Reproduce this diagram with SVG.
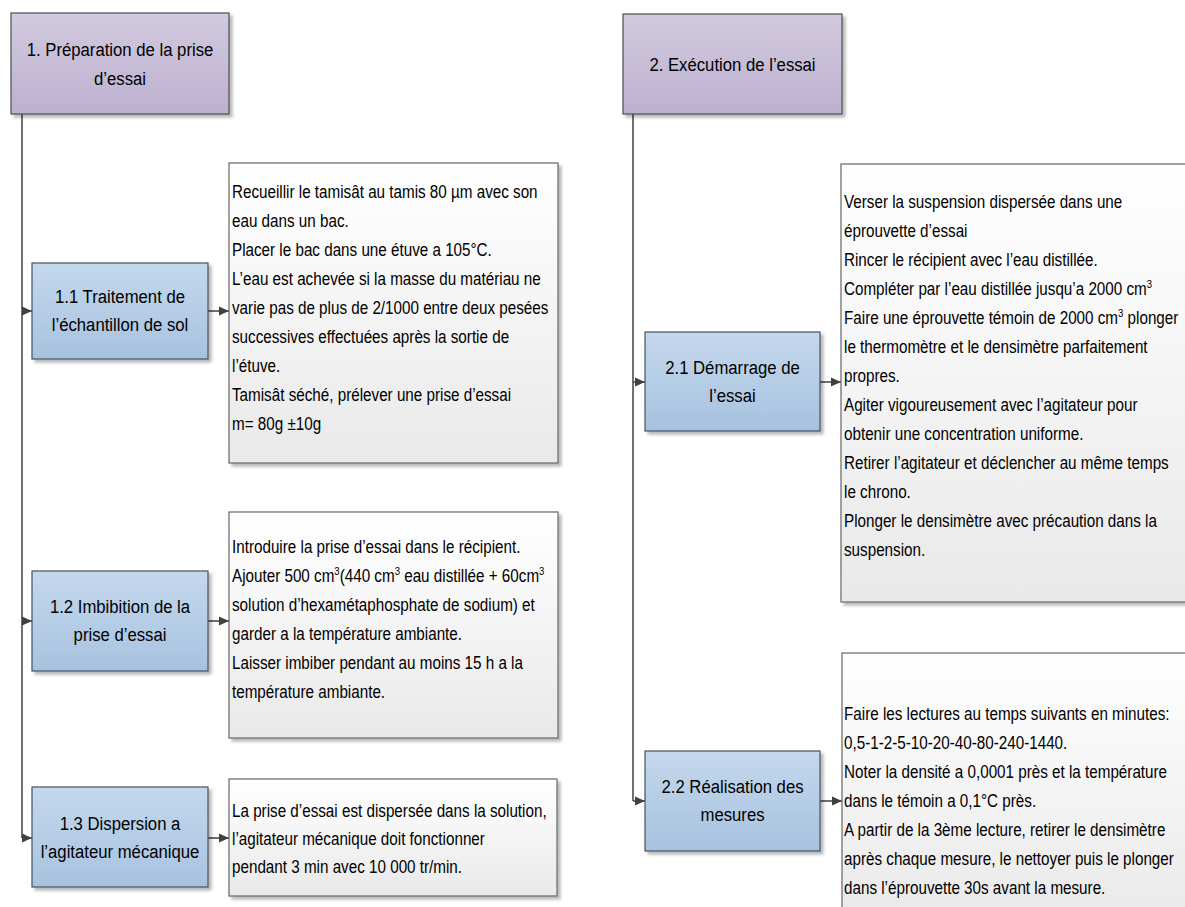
<svg xmlns="http://www.w3.org/2000/svg" width="1185" height="907" viewBox="0 0 1185 907">
<style>
text{font-family:"Liberation Sans",Arial,sans-serif;font-size:17.5px;fill:#000}
.big{font-size:19px}
.c{text-anchor:middle}
.hdr{fill:url(#gP);stroke:#4d4d4d;stroke-width:1.2;filter:url(#sh)}
.nd{fill:url(#gB);stroke:#45535f;stroke-width:1.2;filter:url(#sh)}
.tb{fill:url(#gW);stroke:#666666;stroke-width:1.2;filter:url(#sh)}
.ln{fill:none;stroke:#404040;stroke-width:1.5}
.ar{fill:none;stroke:#404040;stroke-width:1.5;marker-end:url(#ah)}
.sup{font-size:11px}
</style>
<defs>
<linearGradient id="gP" x1="0" y1="0" x2="0" y2="1"><stop offset="0" stop-color="#d2cadf"/><stop offset="1" stop-color="#bcb0d0"/></linearGradient>
<linearGradient id="gB" x1="0" y1="0" x2="0" y2="1"><stop offset="0" stop-color="#c4d8ed"/><stop offset="1" stop-color="#a7c2df"/></linearGradient>
<linearGradient id="gW" x1="0" y1="0" x2="0" y2="1"><stop offset="0" stop-color="#ffffff"/><stop offset="1" stop-color="#e9e9e9"/></linearGradient>
<filter id="sh" x="-5%" y="-5%" width="115%" height="115%"><feDropShadow dx="3" dy="3" stdDeviation="1.5" flood-color="#000" flood-opacity="0.28"/></filter>
<marker id="ah" markerUnits="userSpaceOnUse" markerWidth="10" markerHeight="10" refX="10" refY="5" orient="auto"><path d="M0,0.5 L10,5 L0,9.5 z" fill="#404040"/></marker>
</defs>

<g id="connectors">
<path class="ln" d="M22,114 V838"/>
<path class="ar" d="M22,311 H32"/>
<path class="ar" d="M22,621 H32"/>
<path class="ar" d="M22,838 H32"/>
<path class="ar" d="M208,311 H229"/>
<path class="ar" d="M208,621 H229"/>
<path class="ar" d="M208,838 H229"/>
<path class="ln" d="M633,114 V801"/>
<path class="ar" d="M633,382 H645"/>
<path class="ar" d="M633,801 H645"/>
<path class="ar" d="M820,382 H841"/>
<path class="ar" d="M820,801 H842"/>
</g>

<g id="n1">
<rect class="hdr" x="11" y="13" width="218" height="101"/>
<g transform="translate(120 0) scale(0.88 1)">
<text class="c big" x="0" y="56">1. Préparation de la prise</text>
<text class="c big" x="0" y="85">d’essai</text>
</g>
</g>

<g id="n2">
<rect class="hdr" x="623" y="14" width="219" height="100"/>
<g transform="translate(732.5 0) scale(0.88 1)">
<text class="c big" x="0" y="71">2. Exécution de l’essai</text>
</g>
</g>

<g id="n11">
<rect class="nd" x="32" y="263" width="176" height="96"/>
<g transform="translate(120 0) scale(0.88 1)">
<text class="c big" x="0" y="303">1.1 Traitement de</text>
<text class="c big" x="0" y="331">l’échantillon de sol</text>
</g>
</g>

<g id="t11">
<rect class="tb" x="229" y="163" width="329" height="300"/>
<g transform="translate(232 0) scale(0.87 1)">
<text x="0" y="198">Recueillir le tamisât au tamis 80 µm avec son</text>
<text x="0" y="227">eau dans un bac.</text>
<text x="0" y="256">Placer le bac dans une étuve a 105°C.</text>
<text x="0" y="285">L’eau est achevée si la masse du matériau ne</text>
<text x="0" y="314">varie pas de plus de 2/1000 entre deux pesées</text>
<text x="0" y="343">successives effectuées après la sortie de</text>
<text x="0" y="372">l’étuve.</text>
<text x="0" y="401">Tamisât séché, prélever une prise d’essai</text>
<text x="0" y="430">m= 80g ±10g</text>
</g>
</g>

<g id="n12">
<rect class="nd" x="32" y="571" width="176" height="100"/>
<g transform="translate(120 0) scale(0.88 1)">
<text class="c big" x="0" y="613">1.2 Imbibition de la</text>
<text class="c big" x="0" y="641">prise d’essai</text>
</g>
</g>

<g id="t12">
<rect class="tb" x="229" y="512" width="329" height="226"/>
<g transform="translate(232 0) scale(0.87 1)">
<text x="0" y="553">Introduire la prise d’essai dans le récipient.</text>
<text x="0" y="582">Ajouter 500 cm<tspan class="sup" dy="-7">3</tspan><tspan dy="7">(440 cm</tspan><tspan class="sup" dy="-7">3</tspan><tspan dy="7"> eau distillée + 60cm</tspan><tspan class="sup" dy="-7">3</tspan></text>
<text x="0" y="611">solution d’hexamétaphosphate de sodium) et</text>
<text x="0" y="640">garder a la température ambiante.</text>
<text x="0" y="669">Laisser imbiber pendant au moins 15 h a la</text>
<text x="0" y="698">température ambiante.</text>
</g>
</g>

<g id="n13">
<rect class="nd" x="32" y="787" width="176" height="100"/>
<g transform="translate(120 0) scale(0.88 1)">
<text class="c big" x="0" y="830">1.3 Dispersion a</text>
<text class="c big" x="0" y="858">l’agitateur mécanique</text>
</g>
</g>

<g id="t13">
<rect class="tb" x="229" y="779" width="328" height="117"/>
<g transform="translate(232 0) scale(0.87 1)">
<text x="0" y="817">La prise d’essai est dispersée dans la solution,</text>
<text x="0" y="845">l’agitateur mécanique doit fonctionner</text>
<text x="0" y="873">pendant 3 min avec 10 000 tr/min.</text>
</g>
</g>

<g id="n21">
<rect class="nd" x="645" y="332" width="175" height="99"/>
<g transform="translate(732.5 0) scale(0.88 1)">
<text class="c big" x="0" y="374">2.1 Démarrage de</text>
<text class="c big" x="0" y="402">l’essai</text>
</g>
</g>

<g id="t21">
<rect class="tb" x="841" y="164" width="360" height="438"/>
<g transform="translate(844 0) scale(0.87 1)">
<text x="0" y="208">Verser la suspension dispersée dans une</text>
<text x="0" y="237">éprouvette d’essai</text>
<text x="0" y="266">Rincer le récipient avec l’eau distillée.</text>
<text x="0" y="295">Compléter par l’eau distillée jusqu’a 2000 cm<tspan class="sup" dy="-7">3</tspan></text>
<text x="0" y="324">Faire une éprouvette témoin de 2000 cm<tspan class="sup" dy="-7">3</tspan><tspan dy="7"> plonger</tspan></text>
<text x="0" y="353">le thermomètre et le densimètre parfaitement</text>
<text x="0" y="382">propres.</text>
<text x="0" y="411">Agiter vigoureusement avec l’agitateur pour</text>
<text x="0" y="440">obtenir une concentration uniforme.</text>
<text x="0" y="469">Retirer l’agitateur et déclencher au même temps</text>
<text x="0" y="498">le chrono.</text>
<text x="0" y="527">Plonger le densimètre avec précaution dans la</text>
<text x="0" y="556">suspension.</text>
</g>
</g>

<g id="n22">
<rect class="nd" x="645" y="751" width="175" height="100"/>
<g transform="translate(732.5 0) scale(0.88 1)">
<text class="c big" x="0" y="793">2.2 Réalisation des</text>
<text class="c big" x="0" y="821">mesures</text>
</g>
</g>

<g id="t22">
<rect class="tb" x="842" y="653" width="360" height="270"/>
<g transform="translate(844 0) scale(0.87 1)">
<text x="0" y="720">Faire les lectures au temps suivants en minutes:</text>
<text x="0" y="749">0,5-1-2-5-10-20-40-80-240-1440.</text>
<text x="0" y="778">Noter la densité a 0,0001 près et la température</text>
<text x="0" y="807">dans le témoin a 0,1°C près.</text>
<text x="0" y="836">A partir de la 3ème lecture, retirer le densimètre</text>
<text x="0" y="865">après chaque mesure, le nettoyer puis le plonger</text>
<text x="0" y="894">dans l’éprouvette 30s avant la mesure.</text>
</g>
</g>
</svg>
